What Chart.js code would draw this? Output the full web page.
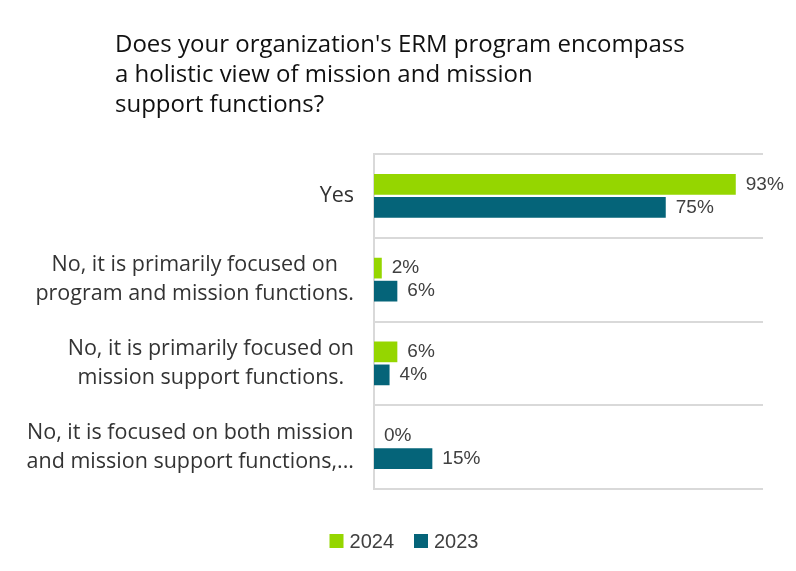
<!DOCTYPE html>
<html>
<head>
<meta charset="utf-8">
<title>ERM program scope</title>
<script src="https://cdn.jsdelivr.net/npm/chart.js@4.4.0/dist/chart.umd.min.js"></script>
<style>
  html, body { margin: 0; padding: 0; background: #fff; }
  #wrap { width: 796px; height: 571px; }
</style>
</head>
<body>
<div id="wrap"><canvas id="ermChart" width="796" height="571"></canvas></div>
<script>
// Survey question and answers
const titleLines = [
  "Does your organization's ERM program encompass",
  "a holistic view of mission and mission",
  "support functions?"
];
const categories = [
  ["Yes"],
  ["No, it is primarily focused on", "program and mission functions."],
  ["No, it is primarily focused on", "mission support functions."],
  ["No, it is focused on both mission", "and mission support functions,..."]
];
const seriesNames = ["2024", "2023"];
const values2024 = [93, 2, 6, 0];
const values2023 = [75, 6, 4, 15];

const GREEN = "#95d600";
const TEAL = "#056479";
const LABEL_FONT = "'Open Sans', sans-serif";

/* ---------- title, top left ---------- */
const leftTitle = {
  id: "leftTitle",
  afterDraw(chart) {
    const ctx = chart.ctx;
    ctx.save();
    ctx.font = "24px " + LABEL_FONT;
    ctx.fillStyle = "#111";
    ctx.textAlign = "left";
    ctx.textBaseline = "middle";
    titleLines.forEach((line, i) => ctx.fillText(line, 115, 45 + i * 30));
    ctx.restore();
  }
};

/* ---------- category labels: block right-aligned, lines centred ---------- */
const categoryLabels = {
  id: "categoryLabels",
  afterDraw(chart) {
    const ctx = chart.ctx;
    const y = chart.scales.y;
    ctx.save();
    ctx.font = "21.5px " + LABEL_FONT;
    ctx.fillStyle = "#333";
    ctx.textAlign = "center";
    ctx.textBaseline = "middle";
    categories.forEach((lines, i) => {
      const cy = y.getPixelForTick(i);
      const blockW = Math.max(...lines.map(l => ctx.measureText(l).width));
      const cx = chart.chartArea.left - 20 - blockW / 2;
      lines.forEach((l, j) => {
        ctx.fillText(l, cx, cy + (j - (lines.length - 1) / 2) * 29);
      });
    });
    ctx.restore();
  }
};

/* ---------- value labels at bar ends ---------- */
const valueLabels = {
  id: "valueLabels",
  afterDatasetsDraw(chart) {
    const ctx = chart.ctx;
    ctx.save();
    ctx.font = "19px 'Liberation Sans', Arial, sans-serif";
    ctx.fillStyle = "#404040";
    ctx.textAlign = "left";
    ctx.textBaseline = "middle";
    chart.data.datasets.forEach((ds, di) => {
      chart.getDatasetMeta(di).data.forEach((bar, i) => {
        ctx.fillText(ds.data[i] + "%", bar.x + 10, bar.y);
      });
    });
    ctx.restore();
  }
};

/* ---------- legend under the plot ---------- */
const bottomLegend = {
  id: "bottomLegend",
  afterDraw(chart) {
    const ctx = chart.ctx;
    const colors = chart.data.datasets.map(d => d.backgroundColor);
    ctx.save();
    ctx.font = "20px 'Liberation Sans', Arial, sans-serif";
    ctx.textBaseline = "middle";
    ctx.textAlign = "left";
    const box = 14, gap = 6, spacing = 20;
    const widths = seriesNames.map(n => ctx.measureText(n).width);
    const total = widths.reduce((a, w) => a + box + gap + w, 0) + spacing * (seriesNames.length - 1);
    let x = 404 - total / 2;
    const cy = 541;
    seriesNames.forEach((n, i) => {
      ctx.fillStyle = colors[i];
      ctx.fillRect(x, cy - box / 2, box, box);
      ctx.fillStyle = "#404040";
      ctx.fillText(n, x + box + gap, cy + 1);
      x += box + gap + widths[i] + spacing;
    });
    ctx.restore();
  }
};

new Chart(document.getElementById("ermChart"), {
  type: "bar",
  data: {
    labels: categories,
    datasets: [
      { label: seriesNames[0], data: values2024, backgroundColor: GREEN },
      { label: seriesNames[1], data: values2023, backgroundColor: TEAL }
    ]
  },
  options: {
    indexAxis: "y",
    responsive: false,
    animation: false,
    devicePixelRatio: 1,
    layout: { padding: { top: 154, right: 33, bottom: 82, left: 0 } },
    datasets: { bar: { categoryPercentage: 0.55, barPercentage: 0.9 } },
    plugins: {
      legend: { display: false },
      title: { display: false },
      tooltip: { enabled: false }
    },
    scales: {
      x: { display: false, min: 0, max: 100 },
      y: {
        ticks: { display: false },
        grid: { color: "#d9d9d9", lineWidth: 2, drawTicks: false, tickLength: 0 },
        border: { color: "#d9d9d9", width: 2 },
        afterFit(scale) { scale.width = 374; }
      }
    }
  },
  plugins: [leftTitle, categoryLabels, valueLabels, bottomLegend]
});
</script>
</body>
</html>
